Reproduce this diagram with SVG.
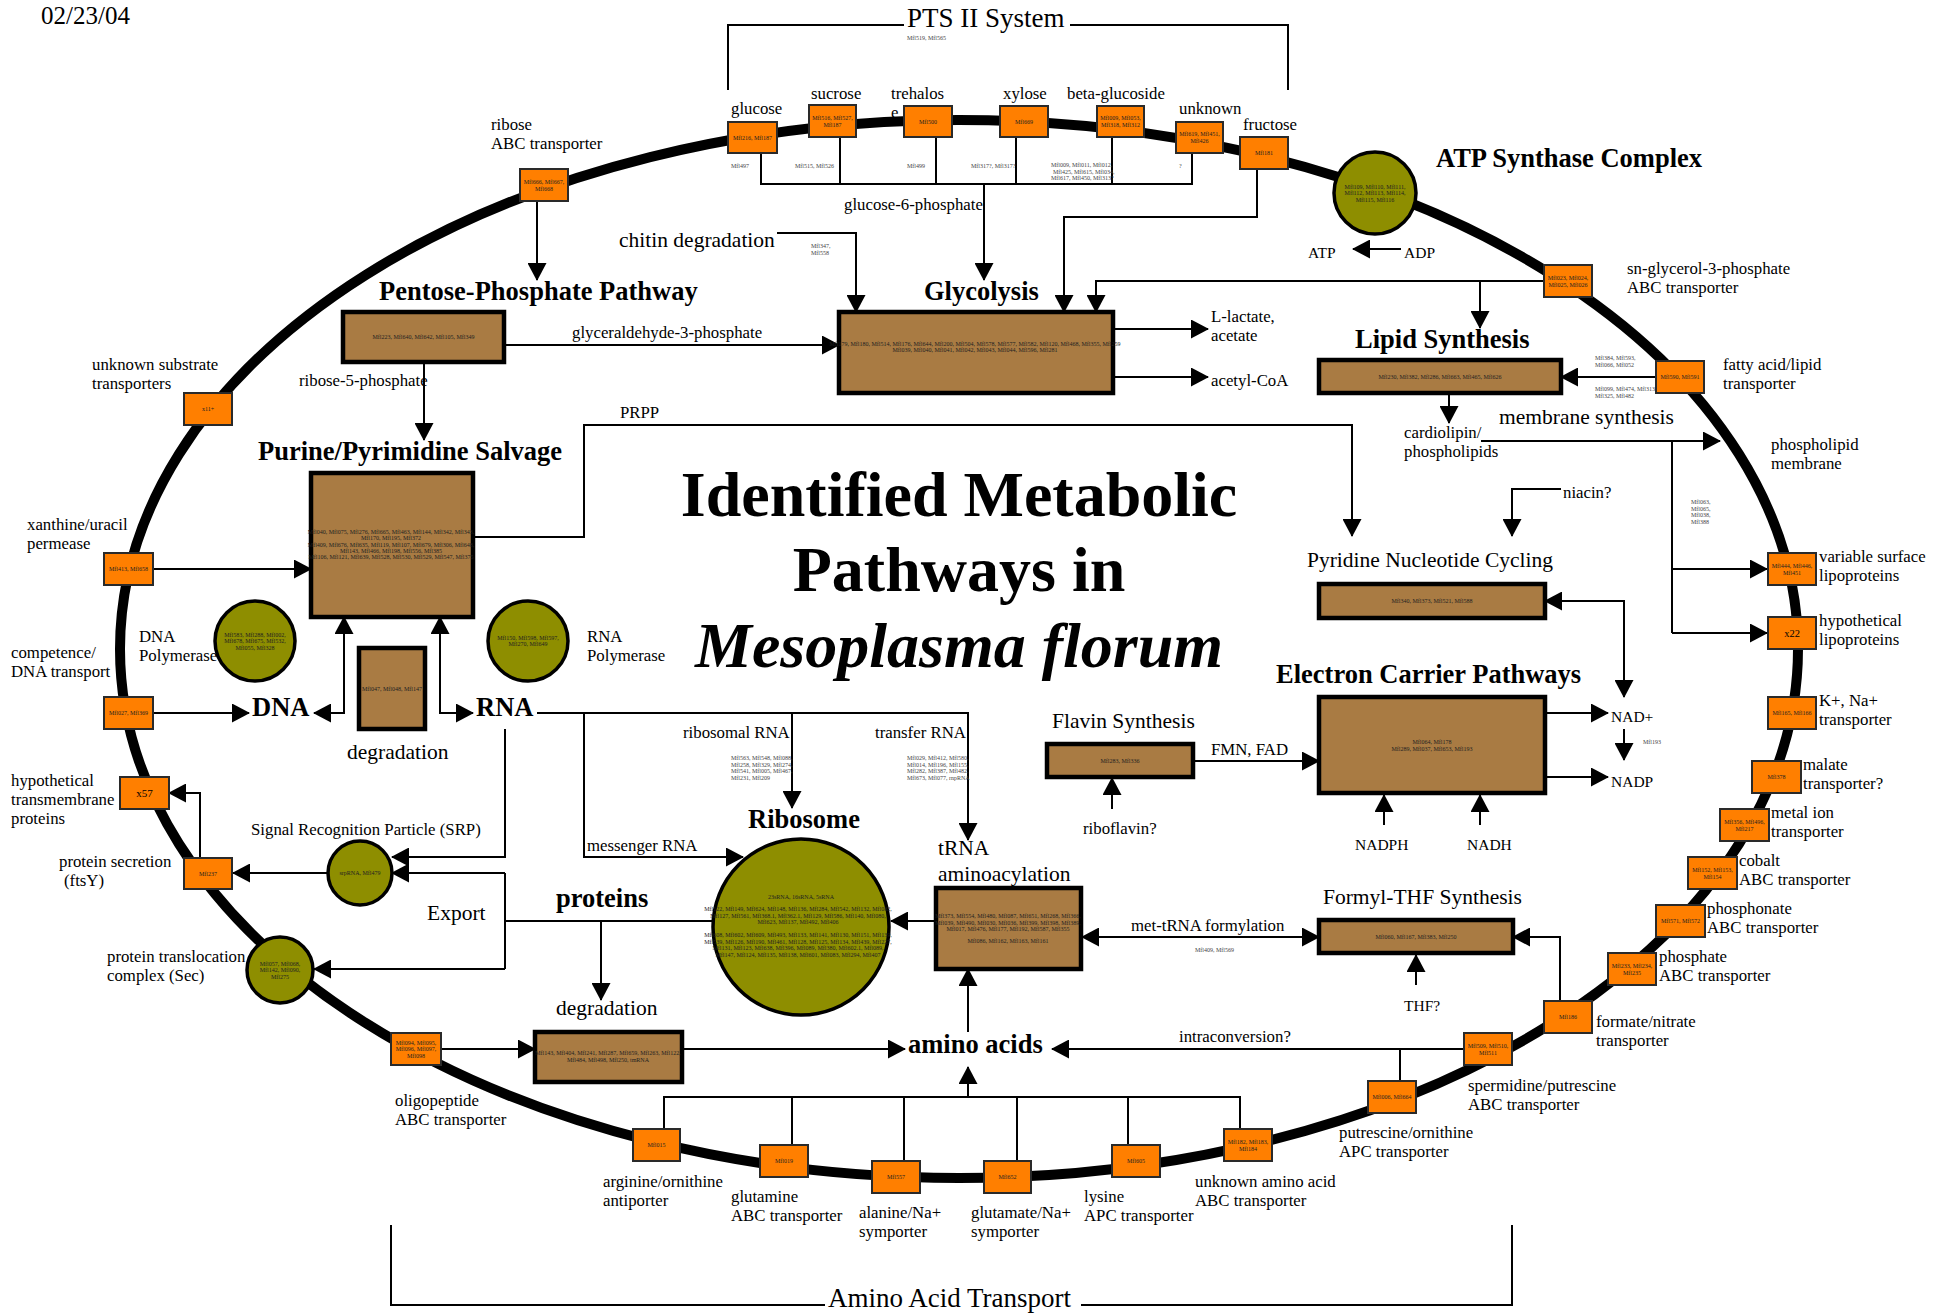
<svg xmlns="http://www.w3.org/2000/svg" width="1948" height="1313" viewBox="0 0 1948 1313">
<defs>
<style>
.t{font-family:"Liberation Serif","Times New Roman",serif;fill:#000}
.s{font-size:16.8px}
.n{font-size:15.5px}
.m{font-size:21.5px}
.h{font-size:26.5px;font-weight:bold}
.g{font-size:6px;fill:#222;text-anchor:middle}
.go{font-size:6px;fill:#444}
.tr{fill:#FF7F00;stroke:#2a2a2a;stroke-width:2}
.pb{fill:#A97B43;stroke:#000;stroke-width:4.5}
.cx{fill:#8E8E00;stroke:#000;stroke-width:3.5}
.c{fill:none;stroke:#000;stroke-width:2}
.a{marker-end:url(#ah)}
.aa{marker-start:url(#ah);marker-end:url(#ah)}
</style>
<marker id="ah" viewBox="0 0 18 19" refX="17" refY="9.5" markerWidth="18" markerHeight="19" markerUnits="userSpaceOnUse" orient="auto-start-reverse"><path d="M0,0 L18,9.5 L0,19 z" fill="#000"/></marker>
</defs>
<rect width="1948" height="1313" fill="#fff"/>

<g id="membrane"><ellipse cx="959" cy="649" rx="839" ry="529" fill="none" stroke="#000" stroke-width="10"/></g>

<g id="title">
<text class="t" x="41" y="24" font-size="25">02/23/04</text>
<text class="t" x="959" y="516" font-size="64" font-weight="bold" text-anchor="middle">Identified Metabolic</text>
<text class="t" x="959" y="591" font-size="64" font-weight="bold" text-anchor="middle">Pathways in</text>
<text class="t" x="959" y="667" font-size="64" font-weight="bold" font-style="italic" text-anchor="middle">Mesoplasma florum</text>
</g>

<g id="connectors">
<polyline class="c" points="728,90 728,25 904,25"/>
<polyline class="c" points="1070,25 1288,25 1288,90"/>
<text class="t" x="907" y="27" font-size="27">PTS II System</text>
<text class="t go" x="907" y="40">Mfl519, Mfl565</text>
<polyline class="c" points="761,153 761,184 1192,184 1192,153"/>
<line class="c" x1="840" y1="137" x2="840" y2="184"/>
<line class="c" x1="936" y1="137" x2="936" y2="184"/>
<line class="c" x1="1016" y1="137" x2="1016" y2="184"/>
<line class="c" x1="1112" y1="137" x2="1112" y2="184"/>
<line class="c a" x1="984" y1="184" x2="984" y2="280"/>
<polyline class="c a" points="1257,169 1257,217 1064,217 1064,312"/>
<polyline class="c a" points="777,233 856,233 856,312"/>
<polyline class="c a" points="1544,281 1096,281 1096,312"/>
<line class="c a" x1="1480" y1="281" x2="1480" y2="328"/>
<line class="c a" x1="537" y1="201" x2="537" y2="280"/>
<line class="c a" x1="504" y1="345" x2="839" y2="345"/>
<line class="c a" x1="424" y1="362" x2="424" y2="440"/>
<polyline class="c a" points="474,537 584,537 584,425 1352,425 1352,536"/>
<line class="c a" x1="1113" y1="329" x2="1208" y2="329"/>
<line class="c a" x1="1113" y1="377" x2="1208" y2="377"/>
<line class="c a" x1="1656" y1="377" x2="1561" y2="377"/>
<line class="c a" x1="1449" y1="393" x2="1449" y2="423"/>
<line class="c a" x1="1481" y1="441" x2="1720" y2="441"/>
<polyline class="c" points="1672,441 1672,633"/>
<line class="c a" x1="1672" y1="569" x2="1767" y2="569"/>
<line class="c a" x1="1672" y1="633" x2="1767" y2="633"/>
<polyline class="c a" points="1561,489 1512,489 1512,536"/>
<polyline class="c aa" points="1545,601 1624,601 1624,697"/>
<line class="c a" x1="1545" y1="713" x2="1608" y2="713"/>
<line class="c a" x1="1545" y1="777" x2="1608" y2="777"/>
<line class="c a" x1="1624" y1="729" x2="1624" y2="760"/>
<line class="c a" x1="1384" y1="825" x2="1384" y2="795"/>
<line class="c a" x1="1480" y1="825" x2="1480" y2="795"/>
<line class="c a" x1="1193" y1="761" x2="1319" y2="761"/>
<line class="c a" x1="1112" y1="809" x2="1112" y2="778"/>
<line class="c a" x1="1416" y1="985" x2="1416" y2="955"/>
<line class="c aa" x1="1082" y1="937" x2="1319" y2="937"/>
<polyline class="c a" points="1560,1001 1560,937 1513,937"/>
<line class="c a" x1="936" y1="921" x2="891" y2="921"/>
<polyline class="c a" points="537,713 968,713 968,840"/>
<line class="c a" x1="792" y1="713" x2="792" y2="808"/>
<polyline class="c a" points="584,713 584,857 743,857"/>
<polyline class="c a" points="505,729 505,857 392,857"/>
<line class="c" x1="713" y1="921" x2="505" y2="921"/>
<line class="c" x1="505" y1="873" x2="505" y2="969"/>
<line class="c a" x1="505" y1="873" x2="392" y2="873"/>
<line class="c a" x1="505" y1="969" x2="314" y2="969"/>
<line class="c a" x1="601" y1="921" x2="601" y2="1000"/>
<line class="c a" x1="327" y1="873" x2="233" y2="873"/>
<polyline class="c a" points="200,858 200,793 169,793"/>
<line class="c a" x1="153" y1="569" x2="311" y2="569"/>
<line class="c a" x1="153" y1="713" x2="249" y2="713"/>
<polyline class="c aa" points="314,713 344,713 344,617"/>
<polyline class="c aa" points="440,617 440,713 473,713"/>
<line class="c a" x1="441" y1="1049" x2="535" y2="1049"/>
<line class="c a" x1="682" y1="1049" x2="905" y2="1049"/>
<line class="c a" x1="1464" y1="1049" x2="1052" y2="1049"/>
<line class="c" x1="1400" y1="1049" x2="1400" y2="1081"/>
<polyline class="c" points="664,1129 664,1097 1240,1097 1240,1129"/>
<line class="c" x1="792" y1="1097" x2="792" y2="1145"/>
<line class="c" x1="904" y1="1097" x2="904" y2="1161"/>
<line class="c" x1="1017" y1="1097" x2="1017" y2="1161"/>
<line class="c" x1="1128" y1="1097" x2="1128" y2="1145"/>
<line class="c a" x1="968" y1="1097" x2="968" y2="1067"/>
<line class="c a" x1="968" y1="1032" x2="968" y2="969"/>
<polyline class="c" points="391,1225 391,1305 825,1305"/>
<polyline class="c" points="1081,1305 1512,1305 1512,1225"/>
<text class="t" x="828" y="1307" font-size="27">Amino Acid Transport</text>
<line class="c a" x1="1401" y1="249" x2="1353" y2="249"/>
</g>

<g id="labels">
<text class="t s" x="844" y="210">glucose-6-phosphate</text>
<text class="t m" x="619" y="247">chitin degradation</text>
<text class="t go" x="811" y="248">Mfl347,<tspan x="811" dy="6.5">Mfl558</tspan></text>
<text class="t s" x="572" y="338">glyceraldehyde-3-phosphate</text>
<text class="t s" x="299" y="386">ribose-5-phosphate</text>
<text class="t s" x="620" y="418">PRPP</text>
<text class="t s" x="1211" y="322">L-lactate,<tspan x="1211" dy="19">acetate</tspan></text>
<text class="t s" x="1211" y="386">acetyl-CoA</text>
<text class="t n" x="1308" y="258">ATP</text>
<text class="t n" x="1404" y="258">ADP</text>
<text class="t s" x="1404" y="438">cardiolipin/<tspan x="1404" dy="18.5">phospholipids</tspan></text>
<text class="t m" x="1499" y="424">membrane synthesis</text>
<text class="t s" x="1771" y="450">phospholipid<tspan x="1771" dy="19">membrane</tspan></text>
<text class="t go" x="1691" y="504">Mfl063,<tspan x="1691" dy="6.5">Mfl065,</tspan><tspan x="1691" dy="6.5">Mfl038,</tspan><tspan x="1691" dy="6.5">Mfl388</tspan></text>
<text class="t s" x="1563" y="498">niacin?</text>
<text class="t n" x="1611" y="722">NAD+</text>
<text class="t n" x="1611" y="787">NADP</text>
<text class="t go" x="1643" y="744">Mfl193</text>
<text class="t n" x="1355" y="850">NADPH</text>
<text class="t n" x="1467" y="850">NADH</text>
<text class="t s" x="1211" y="755">FMN, FAD</text>
<text class="t s" x="1083" y="834">riboflavin?</text>
<text class="t n" x="1404" y="1011">THF?</text>
<text class="t s" x="1131" y="931">met-tRNA formylation</text>
<text class="t go" x="1195" y="952">Mfl409, Mfl569</text>
<text class="t s" x="1179" y="1042">intraconversion?</text>
<text class="t s" x="683" y="738">ribosomal RNA</text>
<text class="t s" x="875" y="738">transfer RNA</text>
<text class="t go" x="731" y="760">Mfl563, Mfl548, Mfl088,<tspan x="731" dy="6.5">Mfl258, Mfl329, Mfl274,</tspan><tspan x="731" dy="6.5">Mfl541, Mfl005, Mfl467,</tspan><tspan x="731" dy="6.5">Mfl231, Mfl209</tspan></text>
<text class="t go" x="907" y="760">Mfl029, Mfl412, Mfl580,<tspan x="907" dy="6.5">Mfl014, Mfl196, Mfl155,</tspan><tspan x="907" dy="6.5">Mfl282, Mfl387, Mfl482,</tspan><tspan x="907" dy="6.5">Mfl673, Mfl077, rnpRNA</tspan></text>
<text class="t s" x="587" y="851">messenger RNA</text>
<text class="t m" x="556" y="1015">degradation</text>
<text class="t m" x="427" y="920">Export</text>
<text class="t go" x="1595" y="360">Mfl384, Mfl593,<tspan x="1595" dy="6.5">Mfl066, Mfl052</tspan></text>
<text class="t go" x="1595" y="391">Mfl099, Mfl474, Mfl313,<tspan x="1595" dy="6.5">Mfl325, Mfl482</tspan></text>
<text class="t go" x="731" y="168">Mfl497</text>
<text class="t go" x="795" y="168">Mfl515, Mfl526</text>
<text class="t go" x="907" y="168">Mfl499</text>
<text class="t go" x="971" y="168">Mfl317?, Mfl317?</text>
<text class="t go" x="1051" y="167">Mfl009, Mfl011, Mfl012,<tspan x="1053" dy="6.5">Mfl425, Mfl615, Mfl034,</tspan><tspan x="1051" dy="6.5">Mfl617, Mfl450, Mfl313?</tspan></text>
<text class="t go" x="1179" y="168">?</text>
</g>

<g id="pts-glucose"><rect class="tr" x="728" y="122" width="49" height="31"/><text class="t g" x="752.5" y="139.5">Mfl216, Mfl187</text><text class="t s" x="731" y="114">glucose</text></g>
<g id="pts-sucrose"><rect class="tr" x="809" y="105" width="47" height="32"/><text class="t g" x="832.5" y="120">Mfl516, Mfl527,<tspan x="832.5" dy="6.5">Mfl187</tspan></text><text class="t s" x="811" y="99">sucrose</text></g>
<g id="pts-trehalose"><rect class="tr" x="904" y="106" width="48" height="31"/><text class="t g" x="928" y="123.5">Mfl500</text><text class="t s" x="891" y="99">trehalos</text><text class="t s" x="891" y="118">e</text></g>
<g id="pts-xylose"><rect class="tr" x="1000" y="106" width="48" height="31"/><text class="t g" x="1024" y="123.5">Mfl669</text><text class="t s" x="1003" y="99">xylose</text></g>
<g id="pts-betaglucoside"><rect class="tr" x="1097" y="106" width="47" height="31"/><text class="t g" x="1120.5" y="120.3">Mfl009, Mfl053,<tspan x="1120.5" dy="6.5">Mfl318, Mfl312</tspan></text><text class="t s" x="1067" y="99">beta-glucoside</text></g>
<g id="pts-unknown"><rect class="tr" x="1176" y="122" width="47" height="31"/><text class="t g" x="1199.5" y="136.3">Mfl619, Mfl451,<tspan x="1199.5" dy="6.5">Mfl426</tspan></text><text class="t s" x="1179" y="114">unknown</text></g>
<g id="pts-fructose"><rect class="tr" x="1240" y="137" width="48" height="32"/><text class="t g" x="1264" y="155">Mfl181</text><text class="t s" x="1243" y="130">fructose</text></g>

<g id="ribose-abc"><rect class="tr" x="520" y="169" width="48" height="32"/><text class="t g" x="544" y="184">Mfl666, Mfl667,<tspan x="544" dy="6.5">Mfl668</tspan></text><text class="t s" x="491" y="130">ribose<tspan x="491" dy="19">ABC transporter</tspan></text></g>
<g id="unknown-substrate"><rect class="tr" x="184" y="393" width="48" height="32"/><text class="t g" x="208" y="411">x11+</text><text class="t s" x="92" y="370">unknown substrate<tspan x="92" dy="19">transporters</tspan></text></g>
<g id="xanthine-uracil"><rect class="tr" x="104" y="553" width="49" height="32"/><text class="t g" x="128.5" y="571">Mfl413, Mfl658</text><text class="t s" x="27" y="530">xanthine/uracil<tspan x="27" dy="19">permease</tspan></text></g>
<g id="competence"><rect class="tr" x="104" y="697" width="49" height="32"/><text class="t g" x="128.5" y="715">Mfl027, Mfl369</text><text class="t s" x="11" y="658">competence/<tspan x="11" dy="19">DNA transport</tspan></text></g>
<g id="hyp-transmembrane"><rect class="tr" x="120" y="777" width="49" height="32"/><text class="t" x="144.5" y="797" font-size="11" text-anchor="middle">x57</text><text class="t s" x="11" y="786">hypothetical<tspan x="11" dy="19">transmembrane</tspan><tspan x="11" dy="19">proteins</tspan></text></g>
<g id="protein-secretion"><rect class="tr" x="184" y="858" width="48" height="31"/><text class="t g" x="208" y="875.5">Mfl237</text><text class="t s" x="59" y="867">protein secretion<tspan x="64" dy="19">(ftsY)</tspan></text></g>
<g id="oligopeptide"><rect class="tr" x="391" y="1033" width="50" height="32"/><text class="t g" x="416" y="1044.5">Mfl094, Mfl095,<tspan x="416" dy="6.5">Mfl096, Mfl097,</tspan><tspan x="416" dy="6.5">Mfl098</tspan></text><text class="t s" x="395" y="1106">oligopeptide<tspan x="395" dy="19">ABC transporter</tspan></text></g>
<g id="arginine"><rect class="tr" x="633" y="1129" width="47" height="32"/><text class="t g" x="656.5" y="1147">Mfl015</text><text class="t s" x="603" y="1187">arginine/ornithine<tspan x="603" dy="19">antiporter</tspan></text></g>
<g id="glutamine"><rect class="tr" x="760" y="1145" width="48" height="32"/><text class="t g" x="784" y="1163">Mfl019</text><text class="t s" x="731" y="1202">glutamine<tspan x="731" dy="19">ABC transporter</tspan></text></g>
<g id="alanine"><rect class="tr" x="872" y="1161" width="48" height="32"/><text class="t g" x="896" y="1179">Mfl557</text><text class="t s" x="859" y="1218">alanine/Na+<tspan x="859" dy="19">symporter</tspan></text></g>
<g id="glutamate"><rect class="tr" x="984" y="1161" width="47" height="32"/><text class="t g" x="1007.5" y="1179">Mfl652</text><text class="t s" x="971" y="1218">glutamate/Na+<tspan x="971" dy="19">symporter</tspan></text></g>
<g id="lysine"><rect class="tr" x="1112" y="1145" width="48" height="32"/><text class="t g" x="1136" y="1163">Mfl605</text><text class="t s" x="1084" y="1202">lysine<tspan x="1084" dy="19">APC transporter</tspan></text></g>
<g id="unknown-aa"><rect class="tr" x="1224" y="1129" width="48" height="32"/><text class="t g" x="1248" y="1144">Mfl182, Mfl183,<tspan x="1248" dy="6.5">Mfl184</tspan></text><text class="t s" x="1195" y="1187">unknown amino acid<tspan x="1195" dy="19">ABC transporter</tspan></text></g>
<g id="putrescine"><rect class="tr" x="1368" y="1081" width="48" height="32"/><text class="t g" x="1392" y="1099">Mfl006, Mfl664</text><text class="t s" x="1339" y="1138">putrescine/ornithine<tspan x="1339" dy="19">APC transporter</tspan></text></g>
<g id="spermidine"><rect class="tr" x="1464" y="1033" width="48" height="32"/><text class="t g" x="1488" y="1048">Mfl509, Mfl510,<tspan x="1488" dy="6.5">Mfl511</tspan></text><text class="t s" x="1468" y="1091">spermidine/putrescine<tspan x="1468" dy="19">ABC transporter</tspan></text></g>
<g id="formate"><rect class="tr" x="1544" y="1001" width="48" height="32"/><text class="t g" x="1568" y="1019">Mfl186</text><text class="t s" x="1596" y="1027">formate/nitrate<tspan x="1596" dy="19">transporter</tspan></text></g>
<g id="phosphate"><rect class="tr" x="1608" y="953" width="48" height="32"/><text class="t g" x="1632" y="968">Mfl233, Mfl234,<tspan x="1632" dy="6.5">Mfl235</tspan></text><text class="t s" x="1659" y="962">phosphate<tspan x="1659" dy="19">ABC transporter</tspan></text></g>
<g id="phosphonate"><rect class="tr" x="1656" y="905" width="49" height="32"/><text class="t g" x="1680.5" y="923">Mfl571, Mfl572</text><text class="t s" x="1707" y="914">phosphonate<tspan x="1707" dy="19">ABC transporter</tspan></text></g>
<g id="cobalt"><rect class="tr" x="1688" y="857" width="49" height="32"/><text class="t g" x="1712.5" y="872">Mfl152, Mfl153,<tspan x="1712.5" dy="6.5">Mfl154</tspan></text><text class="t s" x="1739" y="866">cobalt<tspan x="1739" dy="19">ABC transporter</tspan></text></g>
<g id="metal-ion"><rect class="tr" x="1720" y="809" width="49" height="32"/><text class="t g" x="1744.5" y="824">Mfl356, Mfl496,<tspan x="1744.5" dy="6.5">Mfl217</tspan></text><text class="t s" x="1771" y="818">metal ion<tspan x="1771" dy="19">transporter</tspan></text></g>
<g id="malate"><rect class="tr" x="1752" y="761" width="49" height="32"/><text class="t g" x="1776.5" y="779">Mfl378</text><text class="t s" x="1803" y="770">malate<tspan x="1803" dy="19">transporter?</tspan></text></g>
<g id="k-na"><rect class="tr" x="1768" y="697" width="48" height="32"/><text class="t g" x="1792" y="715">Mfl165, Mfl166</text><text class="t s" x="1819" y="706">K+, Na+<tspan x="1819" dy="19">transporter</tspan></text></g>
<g id="hyp-lipoproteins"><rect class="tr" x="1768" y="617" width="48" height="32"/><text class="t" x="1792" y="637" font-size="10.5" text-anchor="middle">x22</text><text class="t s" x="1819" y="626">hypothetical<tspan x="1819" dy="19">lipoproteins</tspan></text></g>
<g id="variable-surface"><rect class="tr" x="1768" y="553" width="48" height="32"/><text class="t g" x="1792" y="568">Mfl444, Mfl446,<tspan x="1792" dy="6.5">Mfl451</tspan></text><text class="t s" x="1819" y="562">variable surface<tspan x="1819" dy="19">lipoproteins</tspan></text></g>
<g id="fatty-acid"><rect class="tr" x="1656" y="361" width="48" height="32"/><text class="t g" x="1680" y="379">Mfl590, Mfl591</text><text class="t s" x="1723" y="370">fatty acid/lipid<tspan x="1723" dy="19">transporter</tspan></text></g>
<g id="sn-glycerol"><rect class="tr" x="1544" y="265" width="48" height="32"/><text class="t g" x="1568" y="280">Mfl023, Mfl024,<tspan x="1568" dy="6.5">Mfl025, Mfl026</tspan></text><text class="t s" x="1627" y="274">sn-glycerol-3-phosphate<tspan x="1627" dy="19">ABC transporter</tspan></text></g>

<g id="atp-synthase"><circle class="cx" cx="1375" cy="193" r="41"/><text class="t g" x="1375" y="188.5">Mfl109, Mfl110, Mfl111,<tspan x="1375" dy="6.5">Mfl112, Mfl113, Mfl114,</tspan><tspan x="1375" dy="6.5">Mfl115, Mfl116</tspan></text><text class="t h" x="1436" y="167" font-size="27">ATP Synthase Complex</text></g>
<g id="dna-polymerase"><circle class="cx" cx="255" cy="641" r="40"/><text class="t g" x="255" y="636.5">Mfl583, Mfl288, Mfl002,<tspan x="255" dy="6.5">Mfl678, Mfl675, Mfl532,</tspan><tspan x="255" dy="6.5">Mfl055, Mfl328</tspan></text><text class="t s" x="139" y="642">DNA<tspan x="139" dy="19">Polymerase</tspan></text></g>
<g id="rna-polymerase"><circle class="cx" cx="528" cy="641" r="40"/><text class="t g" x="528" y="639.7">Mfl150, Mfl598, Mfl597,<tspan x="528" dy="6.5">Mfl270, Mfl649</tspan></text><text class="t s" x="587" y="642">RNA<tspan x="587" dy="19">Polymerase</tspan></text></g>
<g id="srp"><circle class="cx" cx="360" cy="873" r="32"/><text class="t g" x="360" y="875">srpRNA, Mfl479</text><text class="t s" x="251" y="835">Signal Recognition Particle (SRP)</text></g>
<g id="sec"><circle class="cx" cx="280" cy="970" r="33"/><text class="t g" x="280" y="965.5">Mfl057, Mfl068,<tspan x="280" dy="6.5">Mfl142, Mfl090,</tspan><tspan x="280" dy="6.5">Mfl275</tspan></text><text class="t s" x="107" y="962">protein translocation<tspan x="107" dy="19">complex (Sec)</tspan></text></g>
<g id="ribosome"><circle class="cx" cx="801" cy="927" r="88"/>
<text class="t g" x="801" y="899">23sRNA, 16sRNA, 5sRNA</text>
<text class="t g" x="798" y="911">Mfl122, Mfl149, Mfl624, Mfl148, Mfl136, Mfl284, Mfl542, Mfl132, Mfl082,<tspan x="798" dy="6.5">Mfl127, Mfl561, Mfl368.1, Mfl362.1, Mfl129, Mfl586, Mfl140, Mfl080,</tspan><tspan x="798" dy="6.5">Mfl623, Mfl137, Mfl492, Mfl406</tspan></text>
<text class="t g" x="798" y="937">Mfl608, Mfl602, Mfl609, Mfl493, Mfl133, Mfl141, Mfl130, Mfl151, Mfl139,<tspan x="798" dy="6.5">Mfl539, Mfl126, Mfl190, Mfl461, Mfl128, Mfl125, Mfl134, Mfl439, Mfl227,</tspan><tspan x="798" dy="6.5">Mfl131, Mfl123, Mfl638, Mfl396, Mfl089, Mfl380, Mfl602.1, Mfl089,</tspan><tspan x="798" dy="6.5">Mfl147, Mfl124, Mfl135, Mfl138, Mfl601, Mfl083, Mfl294, Mfl407</tspan></text>
<text class="t h" x="748" y="828">Ribosome</text></g>

<g id="pentose-phosphate"><rect class="pb" x="343" y="312" width="161" height="50"/><text class="t g" x="423.5" y="339">Mfl223, Mfl640, Mfl642, Mfl105, Mfl349</text><text class="t h" x="379" y="300" font-size="26.7">Pentose-Phosphate Pathway</text></g>
<g id="glycolysis"><rect class="pb" x="839" y="312" width="274" height="81"/><text class="t g" x="975" y="346">Mfl179, Mfl180, Mfl514, Mfl176, Mfl644, Mfl200, Mfl504, Mfl578, Mfl577, Mfl582, Mfl120, Mfl468, Mfl355, Mfl259<tspan x="975" dy="6">Mfl039, Mfl040, Mfl041, Mfl042, Mfl043, Mfl044, Mfl596, Mfl281</tspan></text><text class="t h" x="924" y="300">Glycolysis</text></g>
<g id="purine-salvage"><rect class="pb" x="311" y="473" width="162" height="144"/><text class="t g" x="391" y="534">Mfl040, Mfl075, Mfl276, Mfl665, Mfl463, Mfl144, Mfl342, Mfl343,<tspan x="391" dy="6.3">Mfl170, Mfl195, Mfl372</tspan><tspan x="391" dy="6.3">Mfl409, Mfl676, Mfl635, Mfl119, Mfl107, Mfl679, Mfl306, Mfl648,</tspan><tspan x="391" dy="6.3">Mfl143, Mfl466, Mfl198, Mfl556, Mfl385</tspan><tspan x="391" dy="6.3">Mfl106, Mfl121, Mfl639, Mfl528, Mfl530, Mfl529, Mfl547, Mfl375</tspan></text><text class="t h" x="562" y="460" font-size="25" text-anchor="end">Purine/Pyrimidine Salvage</text></g>
<g id="nucleic-degradation"><rect class="pb" x="359" y="648" width="66" height="81"/><text class="t g" x="392" y="691">Mfl047, Mfl048, Mfl147</text><text class="t m" x="347" y="759">degradation</text></g>
<g id="lipid-synthesis"><rect class="pb" x="1319" y="360" width="242" height="33"/><text class="t g" x="1440" y="379">Mfl230, Mfl382, Mfl286, Mfl663, Mfl465, Mfl626</text><text class="t h" x="1355" y="348" font-size="27.5">Lipid Synthesis</text></g>
<g id="pyridine-cycling"><rect class="pb" x="1319" y="584" width="226" height="34"/><text class="t g" x="1432" y="603">Mfl340, Mfl373, Mfl521, Mfl588</text><text class="t m" x="1307" y="567">Pyridine Nucleotide Cycling</text></g>
<g id="electron-carrier"><rect class="pb" x="1319" y="697" width="226" height="96"/><text class="t g" x="1432" y="744">Mfl064, Mfl178<tspan x="1432" dy="6.5">Mfl289, Mfl037, Mfl653, Mfl193</tspan></text><text class="t h" x="1276" y="683" font-size="26">Electron Carrier Pathways</text></g>
<g id="flavin-synthesis"><rect class="pb" x="1047" y="744" width="146" height="33"/><text class="t g" x="1120" y="763">Mfl283, Mfl336</text><text class="t m" x="1052" y="728">Flavin Synthesis</text></g>
<g id="formyl-thf"><rect class="pb" x="1319" y="920" width="194" height="33"/><text class="t g" x="1416" y="939">Mfl060, Mfl167, Mfl383, Mfl250</text><text class="t m" x="1323" y="904">Formyl-THF Synthesis</text></g>
<g id="trna-aminoacylation"><rect class="pb" x="936" y="888" width="145" height="81"/><text class="t g" x="1008" y="918">Mfl373, Mfl554, Mfl480, Mfl087, Mfl651, Mfl268, Mfl366,<tspan x="1008" dy="6.5">Mfl039, Mfl490, Mfl030, Mfl036, Mfl399, Mfl398, Mfl389,</tspan><tspan x="1008" dy="6.5">Mfl017, Mfl476, Mfl177, Mfl192, Mfl587, Mfl355</tspan><tspan x="1008" dy="12">Mfl086, Mfl162, Mfl163, Mfl161</tspan></text><text class="t m" x="938" y="855">tRNA<tspan x="938" dy="26">aminoacylation</tspan></text></g>
<g id="protein-degradation"><rect class="pb" x="535" y="1032" width="147" height="50"/><text class="t g" x="608" y="1055">Mfl143, Mfl404, Mfl241, Mfl287, Mfl659, Mfl263, Mfl122,<tspan x="608" dy="7">Mfl484, Mfl498, Mfl250, tmRNA</tspan></text></g>

<g id="dna"><text class="t h" x="252" y="716" font-size="25.5">DNA</text></g>
<g id="rna"><text class="t h" x="476" y="716" font-size="25.5">RNA</text></g>
<g id="proteins"><text class="t h" x="556" y="907">proteins</text></g>
<g id="amino-acids"><text class="t h" x="908" y="1053" font-size="27">amino acids</text></g>
</svg>
